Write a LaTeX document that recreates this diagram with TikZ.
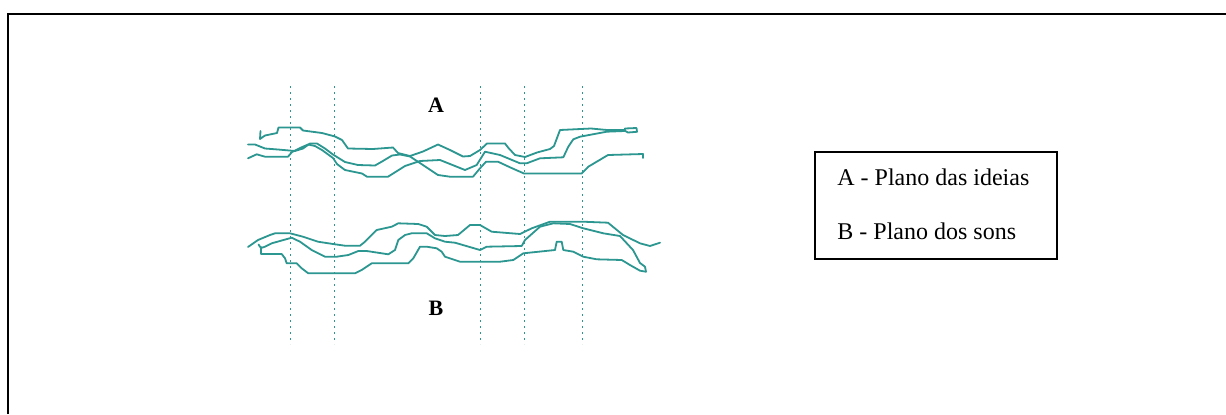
\documentclass[tikz,border=0pt]{standalone}
\usepackage{fontspec}
\setmainfont{Liberation Serif}
\definecolor{wavecol}{RGB}{44,150,144}
\begin{document}
\begin{tikzpicture}[x=0.5pt,y=-0.5pt,
  wave/.style={draw=wavecol, line width=0.9pt, line join=round, line cap=round},
  cut/.style={draw=wavecol, line width=0.75pt, dash pattern=on 0.9pt off 2.1pt},
  planelabel/.style={font=\fontsize{11}{13}\selectfont\bfseries, inner sep=0pt, anchor=base},
  legendtext/.style={font=\fontsize{12}{14}\selectfont, inner sep=0pt, anchor=base west},
  legendbox/.style={draw=black, line width=0.7pt}]
  % canvas
  \useasboundingbox (0,0) rectangle (1226,414);
  \fill[white] (0,0) rectangle (1226,414);
  % open outer frame (top and left sides)
  \draw[line width=1pt] (8,414) -- (8,14) -- (1226,14);

  % vertical dotted cuts
  \foreach \cx in {290.5,334.5,480.3,524.3,582.3}
    \draw[cut] (\cx,86) -- (\cx,344);

  % plane A: three wavy lines
  \draw[wave] (260.5,131) -- (260,139) -- (265,135.5) -- (277,133) -- (278.5,127.5)
    -- (300,127.5) -- (303,130.5) -- (322,133) -- (335,136.5) -- (342,140) -- (348,148.5)
    -- (373,149) -- (393,147.5) -- (398,153) -- (410,156) -- (423,151.5) -- (438,144.5)
    -- (450,150) -- (463,156.5) -- (470,156) -- (480,150) -- (487,143.5) -- (505,143.5)
    -- (508.5,148) -- (515,155) -- (525,157) -- (537,152.5) -- (550,149) -- (554,146)
    -- (560,130) -- (591,128.5) -- (607,130) -- (625,130);
  \draw[wave] (625,128.5) -- (636.5,128) -- (637,131.8) -- (628,132.5) -- (624.5,130.5) -- cycle;
  \draw[wave] (248,144.5) -- (255,144.5) -- (265,148.5) -- (278,149.5) -- (295,151)
    -- (303,148.5) -- (310,143.5) -- (317,143.5) -- (325,148.5) -- (333,154.5)
    -- (345,162) -- (358,165) -- (375,165.5) -- (382,161.5) -- (392,155.5) -- (400,154.5)
    -- (410,156.5) -- (423,165) -- (438,175) -- (450,176.7) -- (473,176.7) -- (480,168.3)
    -- (486,161.7) -- (498,161.7) -- (510,167.3) -- (524,173.5) -- (581.7,173.5)
    -- (588.3,166.7) -- (608,155) -- (643,154) -- (643,158);
  \draw[wave] (248,158.3) -- (256.7,154.3) -- (265,156.7) -- (288,156.7) -- (292,152)
    -- (300,148) -- (308,144.5) -- (315,146) -- (322,150) -- (333,158) -- (337,164)
    -- (345,170) -- (362,173.5) -- (367,176.7) -- (388,176.7) -- (395,172.3) -- (405,166)
    -- (420,161) -- (440,160) -- (465,170) -- (476.7,165) -- (485,151.7) -- (500,155)
    -- (520,163.3) -- (526.7,163.3) -- (540,158.3) -- (563.3,157.3) -- (568.3,146.7)
    -- (573.3,139.3) -- (580,136.7) -- (606.7,131.7) -- (624.5,131);

  % plane B: three wavy lines
  \draw[wave] (248,247) -- (258,240) -- (270,235) -- (275,233.3) -- (290,233.3)
    -- (303,236.7) -- (318,241.7) -- (335,244.3) -- (345,245.7) -- (360,245.7)
    -- (365,241.7) -- (376.7,230) -- (391.7,226.7) -- (398.3,223.3) -- (418.3,224)
    -- (426.7,226.7) -- (435,235) -- (445,236) -- (458,235) -- (470,225) -- (480,225)
    -- (491.7,231.7) -- (520,234) -- (531.7,228.3) -- (550,221.7) -- (583,221.7)
    -- (608,222.7) -- (623,235) -- (640,243.3) -- (650,246) -- (660,242.7);
  \draw[wave] (258.5,244.5) -- (261,248) -- (265,246.7) -- (271.7,243.3) -- (291.7,237.7)
    -- (300,241.7) -- (311.7,250) -- (325,256.7) -- (336.7,256.7) -- (348.3,255)
    -- (358.3,251) -- (366.7,251) -- (388.3,254.3) -- (395,250) -- (398.3,240)
    -- (405,235) -- (411.7,233.3) -- (426.7,233.3) -- (435,238.3) -- (445,241.7)
    -- (455,242.7) -- (480,250) -- (486.7,246.7) -- (521.7,246) -- (525,240)
    -- (540,226.7) -- (553.3,223.3) -- (570,224) -- (583.3,228.3) -- (603.3,233.3)
    -- (620,236) -- (633,250) -- (640,263) -- (645,266.7) -- (646,271.7);
  \draw[wave] (261,247) -- (261,254) -- (281.7,254) -- (285,258.3) -- (286.7,263.3)
    -- (296.7,263.3) -- (301.7,268.3) -- (308.3,273.3) -- (355,273.3) -- (361.7,270)
    -- (371.7,263.3) -- (408.3,263.3) -- (413.3,258.3) -- (420,246.7) -- (426.7,246.7)
    -- (436.7,248.3) -- (441.7,251.7) -- (445,256.7) -- (460,261.7) -- (500,261.7)
    -- (513.3,260) -- (523.3,253.3) -- (555,250) -- (556.7,241.7) -- (561.7,241.7)
    -- (563.3,250) -- (573.3,251.7) -- (583.3,256.7) -- (596.7,259.3) -- (621.7,260)
    -- (630,265) -- (640,270.7) -- (646,271.7);

  % plane labels
  \node[planelabel] (labA) at (436,112.7) {A};
  \node[planelabel] (labB) at (436,315.7) {B};

  % legend
  \draw[legendbox] (815,152) rectangle (1057,259);
  \node[legendtext] (legA) at (837,185) {A - Plano das ideias};
  \node[legendtext] (legB) at (837,239.7) {B - Plano dos sons};
\end{tikzpicture}
\end{document}
